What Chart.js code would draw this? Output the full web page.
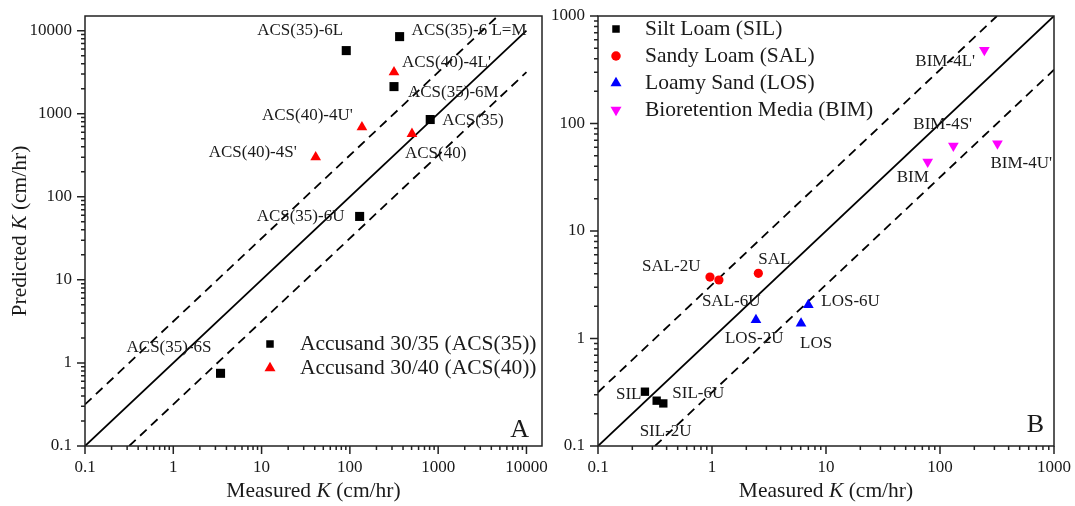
<!DOCTYPE html>
<html>
<head>
<meta charset="utf-8">
<script src="https://cdn.jsdelivr.net/npm/chart.js"></script>
<style>
  html, body { margin: 0; padding: 0; background: #fff; }
  #wrap { position: relative; width: 1075px; height: 506px; overflow: hidden; }
  #chartA { position: absolute; left: 0; top: 0; }
  #chartB { position: absolute; left: 540px; top: 0; }
</style>
</head>
<body>
<div id="wrap">
  <canvas id="chartA" width="566" height="506"></canvas>
  <canvas id="chartB" width="535" height="506"></canvas>
</div>
<script>
// ---- panel A : Accusand ----
const ACS35_NAMES     = ['ACS(35)', 'ACS(35)-6L', 'ACS(35)-6 L=M', 'ACS(35)-6M', 'ACS(35)-6U', 'ACS(35)-6S'];
const ACS35_MEASURED  = [813, 91, 366, 316, 129, 3.43];
const ACS35_PREDICTED = [851, 5750, 8470, 2120, 58, 0.75];

const ACS40_NAMES     = ['ACS(40)', "ACS(40)-4L'", "ACS(40)-4U'", "ACS(40)-4S'"];
const ACS40_MEASURED  = [505, 316, 137, 41];
const ACS40_PREDICTED = [573, 3155, 689, 300];

// ---- panel B : soils ----
const SIL_NAMES     = ['SIL', 'SIL-2U', 'SIL-6U'];
const SIL_MEASURED  = [0.258, 0.327, 0.374];
const SIL_PREDICTED = [0.32, 0.264, 0.249];

const SAL_NAMES     = ['SAL', 'SAL-2U', 'SAL-6U'];
const SAL_MEASURED  = [2.55, 0.96, 1.15];
const SAL_PREDICTED = [4.04, 3.73, 3.5];

const LOS_NAMES     = ['LOS', 'LOS-2U', 'LOS-6U'];
const LOS_MEASURED  = [6.04, 2.43, 7.0];
const LOS_PREDICTED = [1.38, 1.49, 2.05];

const BIM_NAMES     = ['BIM', "BIM-4S'", "BIM-4L'", "BIM-4U'"];
const BIM_MEASURED  = [78, 131, 245, 319];
const BIM_PREDICTED = [44, 62, 483, 65];

// 1:1 line and half-decade bands
const LINE_A_X  = [0.1, 10000],   LINE_A_Y  = [0.1, 10000];
const UPPER_A_X = [0.1, 10000],   UPPER_A_Y = [0.3162, 31623];
const LOWER_A_X = [0.3162, 10000], LOWER_A_Y = [0.1, 3162];
const LINE_B_X  = [0.1, 1000],    LINE_B_Y  = [0.1, 1000];
const UPPER_B_X = [0.1, 316.2],   UPPER_B_Y = [0.3162, 1000];
const LOWER_B_X = [0.3162, 1000], LOWER_B_Y = [0.1, 316.2];

const TICKS_A  = [0.1, 1, 10, 100, 1000, 10000];
const LABELS_A = ['0.1', '1', '10', '100', '1000', '10000'];
const TICKS_B  = [0.1, 1, 10, 100, 1000];
const LABELS_B = ['0.1', '1', '10', '100', '1000'];

// label placement (px offset from the marker: text left, text middle)
const OFF_ACS35 = [[12, 1], [-89, -20], [12, -6], [14, 6], [-103, 0], [-94, -26]];
const OFF_ACS40 = [[-7, 20], [8, -10], [-100, -12], [-107, -5]];
const OFF_SIL   = [[-29, 3], [-17, 31], [9, -10]];
const OFF_SAL   = [[0, -14], [-68, -11], [-17, 22]];
const OFF_LOS   = [[-1, 20], [-31, 19], [13, -3]];
const OFF_BIM   = [[-31, 16], [-40, -21], [-69, 12], [-7, 20]];

const SERIF = "'Liberation Serif', 'Times New Roman', serif";
const INK = '#1a1a1a';

const xy = (xs, ys) => xs.map((x, i) => ({ x, y: ys[i] }));

function markerSet(names, xs, ys, offsets, style, color, radius, rotation) {
  return {
    data: xy(xs, ys), names, offsets,
    pointStyle: style, rotation: rotation || 0,
    pointRadius: radius, pointHoverRadius: radius,
    backgroundColor: color, borderColor: color, borderWidth: 0,
    order: 0
  };
}

function refLine(xs, ys, dashed) {
  return {
    data: xy(xs, ys), showLine: true, pointRadius: 0, pointHoverRadius: 0,
    borderColor: '#000', borderWidth: 1.8, borderDash: dashed ? [9, 6] : [],
    fill: false, order: 5
  };
}

function drawMarker(ctx, style, x, y, size, color) {
  ctx.save();
  ctx.fillStyle = color;
  ctx.beginPath();
  if (style === 'rect') {
    ctx.rect(x - size / 2, y - size / 2, size, size);
  } else if (style === 'circle') {
    ctx.arc(x, y, size / 2, 0, Math.PI * 2);
  } else {
    const h = size * 0.866, s = style === 'triangle' ? 1 : -1;
    ctx.moveTo(x, y - s * h * 2 / 3);
    ctx.lineTo(x + size / 2, y + s * h / 3);
    ctx.lineTo(x - size / 2, y + s * h / 3);
    ctx.closePath();
  }
  ctx.fill();
  ctx.restore();
}

function drawLogTicks(ctx, scale, horizontal, a) {
  const lo = Math.floor(Math.log10(scale.min)), hi = Math.ceil(Math.log10(scale.max));
  ctx.beginPath();
  for (let e = lo; e <= hi; e++) {
    for (let k = 1; k <= 9; k++) {
      const v = k * Math.pow(10, e);
      if (v < scale.min * 0.999 || v > scale.max * 1.001) continue;
      const p = scale.getPixelForValue(v);
      const len = k === 1 ? 8 : 4;
      if (horizontal) { ctx.moveTo(p, a.bottom); ctx.lineTo(p, a.bottom + len); }
      else { ctx.moveTo(a.left - len, p); ctx.lineTo(a.left, p); }
    }
  }
  ctx.stroke();
}

// title text with italic K
function drawTitle(ctx, parts, cx, cy, rotate, size) {
  ctx.save();
  ctx.translate(cx, cy);
  if (rotate) ctx.rotate(-Math.PI / 2);
  const fonts = parts.map(p => (p[1] ? 'italic ' : '') + size + 'px ' + SERIF);
  const widths = parts.map((p, i) => { ctx.font = fonts[i]; return ctx.measureText(p[0]).width; });
  let x = -widths.reduce((s, w) => s + w, 0) / 2;
  ctx.textBaseline = 'middle';
  ctx.textAlign = 'left';
  ctx.fillStyle = INK;
  parts.forEach((p, i) => { ctx.font = fonts[i]; ctx.fillText(p[0], x, 0); x += widths[i]; });
  ctx.restore();
}

const decor = {
  id: 'decor',
  afterDatasetsDraw(chart, args, opts) {
    const { ctx, chartArea: a, scales: { x, y } } = chart;
    ctx.save();
    ctx.strokeStyle = '#222';
    ctx.lineWidth = 1.5;
    ctx.strokeRect(a.left, a.top, a.right - a.left, a.bottom - a.top);
    drawLogTicks(ctx, x, true, a);
    drawLogTicks(ctx, y, false, a);

    ctx.font = '17px ' + SERIF;
    ctx.fillStyle = INK;
    ctx.textBaseline = 'middle';
    ctx.textAlign = 'left';
    chart.data.datasets.forEach((ds, i) => {
      if (!ds.names) return;
      chart.getDatasetMeta(i).data.forEach((pt, j) => {
        const [dx, dy] = ds.offsets[j];
        ctx.fillText(ds.names[j], pt.x + dx, pt.y + dy);
      });
    });

    const lg = opts.legend;
    lg.items.forEach((it, i) => {
      const cy = lg.y + i * lg.dy;
      drawMarker(ctx, it.style, lg.x, cy, it.size, it.color);
      ctx.font = lg.font + 'px ' + SERIF;
      ctx.fillStyle = INK;
      ctx.textBaseline = 'middle';
      ctx.textAlign = 'left';
      ctx.fillText(it.text, lg.textX, cy);
    });

    ctx.font = '26px ' + SERIF;
    ctx.textAlign = 'right';
    ctx.textBaseline = 'alphabetic';
    ctx.fillText(opts.letter.text, opts.letter.x, opts.letter.y);

    const cx = (a.left + a.right) / 2;
    drawTitle(ctx, [['Measured ', false], ['K', true], [' (cm/hr)', false]], cx, 491, false, 21.5);
    if (opts.yTitle) {
      drawTitle(ctx, [['Predicted ', false], ['K', true], [' (cm/hr)', false]], 20, (a.top + a.bottom) / 2, true, 21.5);
    }
    ctx.restore();
  }
};

function axes(max, ticks, labels, yWidth) {
  const tickFont = { family: SERIF, size: 17 };
  return {
    x: {
      type: 'logarithmic', min: 0.1, max,
      grid: { display: false, drawTicks: true, tickLength: 8 },
      border: { display: false },
      afterBuildTicks: s => { s.ticks = ticks.map(v => ({ value: v })); },
      ticks: { autoSkip: false, maxRotation: 0, padding: 3, color: INK, font: tickFont,
               callback: (v, i) => labels[i] },
      afterFit: s => { s.height = 60; }
    },
    y: {
      type: 'logarithmic', min: 0.1, max,
      grid: { display: false, drawTicks: true, tickLength: 8 },
      border: { display: false },
      afterBuildTicks: s => { s.ticks = ticks.map(v => ({ value: v })); },
      ticks: { autoSkip: false, padding: 5, color: INK, font: tickFont,
               callback: (v, i) => labels[i] },
      afterFit: s => { s.width = yWidth; }
    }
  };
}

const common = {
  responsive: false,
  animation: false,
  devicePixelRatio: 1,
  events: []
};

new Chart(document.getElementById('chartA'), {
  type: 'scatter',
  data: {
    datasets: [
      markerSet(ACS35_NAMES, ACS35_MEASURED, ACS35_PREDICTED, OFF_ACS35, 'rect', '#000000', 6.4),
      markerSet(ACS40_NAMES, ACS40_MEASURED, ACS40_PREDICTED, OFF_ACS40, 'triangle', '#ff0000', 6.2),
      refLine(LINE_A_X, LINE_A_Y, false),
      refLine(UPPER_A_X, UPPER_A_Y, true),
      refLine(LOWER_A_X, LOWER_A_Y, true)
    ]
  },
  options: Object.assign({}, common, {
    layout: { padding: { left: 0, top: 16, right: 24, bottom: 0 } },
    scales: axes(15000, TICKS_A, LABELS_A, 85),
    plugins: {
      legend: { display: false },
      tooltip: { enabled: false },
      decor: {
        yTitle: true,
        letter: { text: 'A', x: 529, y: 437 },
        legend: {
          x: 270, y: 344, dy: 24, textX: 300, font: 21.5,
          items: [
            { style: 'rect', color: '#000000', size: 7.5, text: 'Accusand 30/35 (ACS(35))' },
            { style: 'triangle', color: '#ff0000', size: 11, text: 'Accusand 30/40 (ACS(40))' }
          ]
        }
      }
    }
  }),
  plugins: [decor]
});

new Chart(document.getElementById('chartB'), {
  type: 'scatter',
  data: {
    datasets: [
      markerSet(SIL_NAMES, SIL_MEASURED, SIL_PREDICTED, OFF_SIL, 'rect', '#000000', 5.9),
      markerSet(SAL_NAMES, SAL_MEASURED, SAL_PREDICTED, OFF_SAL, 'circle', '#ff0000', 4.6),
      markerSet(LOS_NAMES, LOS_MEASURED, LOS_PREDICTED, OFF_LOS, 'triangle', '#0000ff', 6.2),
      markerSet(BIM_NAMES, BIM_MEASURED, BIM_PREDICTED, OFF_BIM, 'triangle', '#ff00ff', 6.2, 180),
      refLine(LINE_B_X, LINE_B_Y, false),
      refLine(UPPER_B_X, UPPER_B_Y, true),
      refLine(LOWER_B_X, LOWER_B_Y, true)
    ]
  },
  options: Object.assign({}, common, {
    layout: { padding: { left: 0, top: 16, right: 21, bottom: 0 } },
    scales: axes(1000, TICKS_B, LABELS_B, 58),
    plugins: {
      legend: { display: false },
      tooltip: { enabled: false },
      decor: {
        yTitle: false,
        letter: { text: 'B', x: 504, y: 432 },
        legend: {
          x: 76, y: 29, dy: 27, textX: 105, font: 21.5,
          items: [
            { style: 'rect', color: '#000000', size: 7.5, text: 'Silt Loam (SIL)' },
            { style: 'circle', color: '#ff0000', size: 9.5, text: 'Sandy Loam (SAL)' },
            { style: 'triangle', color: '#0000ff', size: 11, text: 'Loamy Sand (LOS)' },
            { style: 'invtriangle', color: '#ff00ff', size: 11, text: 'Bioretention Media (BIM)' }
          ]
        }
      }
    }
  }),
  plugins: [decor]
});
</script>
</body>
</html>
